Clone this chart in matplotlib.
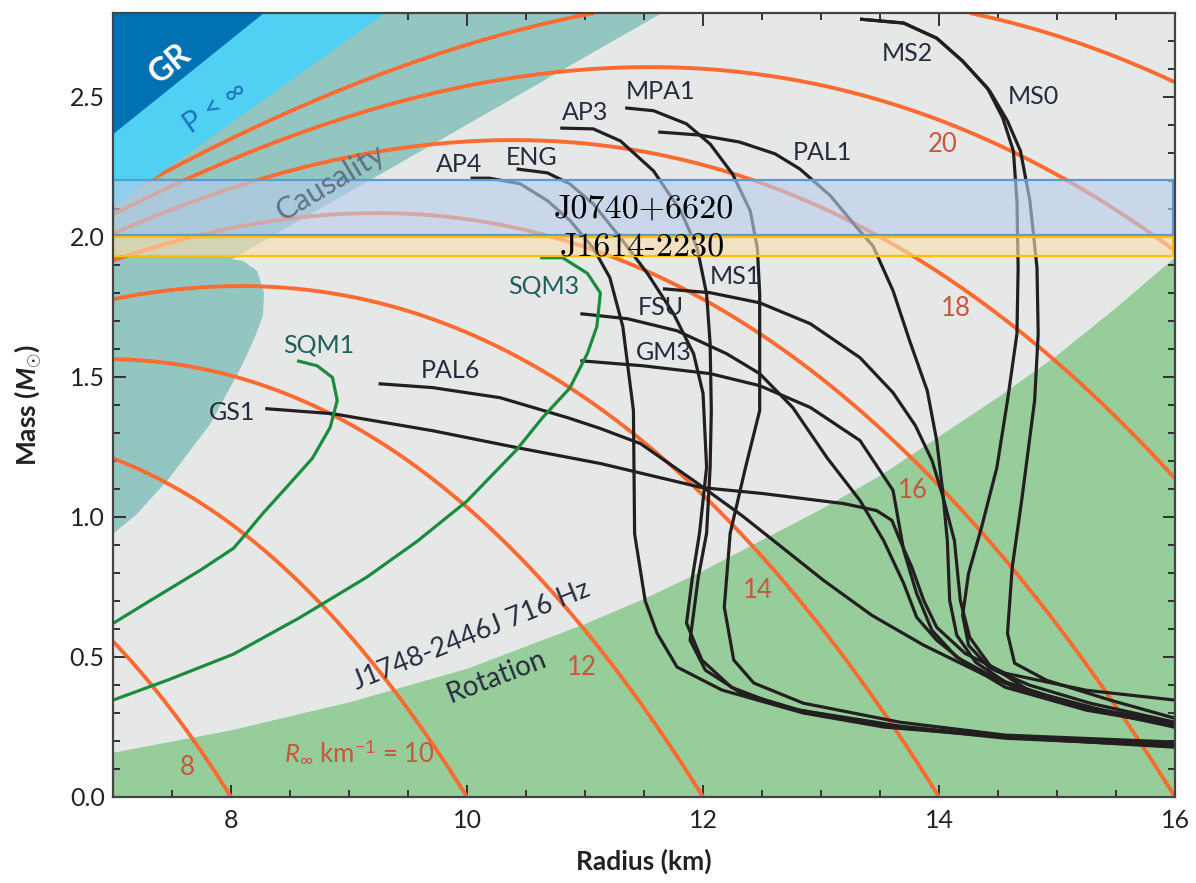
import numpy as np
import matplotlib
matplotlib.use("Agg")
import matplotlib.pyplot as plt
from matplotlib.patches import Polygon

# ---------------- data (radius in km, mass in solar masses) ----------------
rinf_levels = [8, 10, 12, 14, 16, 18, 20, 22]     # R_inf iso-lines
GM_C2 = 1.4766                                     # km per solar mass

gr_R, gr_M = [7.0, 8.27], [2.37, 2.80]             # GR limit
pinf_R, pinf_M = [7.0, 9.30], [2.11, 2.80]         # P < inf limit
caus_R, caus_M = [7.0, 11.64], [1.68, 2.80]        # causality limit
blob_R = [7.0, 7.9, 8.1, 8.22, 8.28, 8.27, 8.2, 8.08, 7.82, 7.46, 7.2, 7.0]
blob_M = [1.926, 1.926, 1.915, 1.88, 1.80, 1.72, 1.64, 1.53, 1.33, 1.13, 1.01, 0.94]
rot_R = [7.0, 7.5, 8.0, 8.5, 9.0, 9.5, 10.0, 10.5, 11.0, 11.5, 12.0, 12.5,
         13.0, 13.5, 14.0, 14.5, 15.0, 15.5, 16.0]
rot_M = [0.16, 0.20, 0.24, 0.29, 0.34, 0.40, 0.46, 0.54, 0.62, 0.71, 0.81, 0.92,
         1.03, 1.15, 1.29, 1.43, 1.58, 1.75, 1.93]

band_j0740 = [2.008, 2.204]
band_j1614 = [1.933, 2.001]

ap4_R = [10.03, 10.19, 10.45, 10.68, 10.87, 11.07, 11.21, 11.32, 11.41, 11.42, 11.51,
         11.61, 11.78, 12.16, 12.85, 13.53, 14.56, 16.0]
ap4_M = [2.21, 2.21, 2.19, 2.13, 2.06, 1.96, 1.855, 1.68, 1.38, 0.94, 0.70, 0.585,
         0.464, 0.382, 0.30, 0.25, 0.214, 0.178]
eng_R = [10.42, 10.68, 10.87, 11.07, 11.30, 11.53, 11.75, 11.92, 12.0, 12.03, 11.97,
         11.91, 11.86, 11.99, 12.24, 12.68, 13.5, 14.56, 16.0]
eng_M = [2.243, 2.229, 2.19, 2.118, 1.997, 1.869, 1.726, 1.583, 1.441, 1.177, 0.942,
         0.785, 0.621, 0.489, 0.392, 0.321, 0.257, 0.210, 0.182]
ap3_R = [10.79, 11.07, 11.30, 11.58, 11.81, 11.95, 12.03, 12.06, 12.07, 12.06, 12.03,
         11.96, 11.89, 12.02, 12.31, 12.82, 13.67, 14.56, 16.0]
ap3_M = [2.389, 2.386, 2.343, 2.236, 2.093, 1.961, 1.797, 1.619, 1.380, 1.177, 0.942,
         0.785, 0.560, 0.453, 0.374, 0.310, 0.253, 0.214, 0.189]
mpa1_R = [11.34, 11.58, 11.86, 12.06, 12.25, 12.40, 12.46, 12.48, 12.48, 12.36, 12.23,
          12.18, 12.26, 12.43, 12.85, 13.67, 14.56, 16.0]
mpa1_M = [2.461, 2.451, 2.404, 2.332, 2.225, 2.093, 1.961, 1.797, 1.380, 1.177, 0.942,
          0.678, 0.489, 0.407, 0.335, 0.267, 0.221, 0.196]
pal1_R = [11.62, 11.97, 12.31, 12.61, 12.82, 13.08, 13.29, 13.44, 13.61, 13.75, 13.90,
          13.98, 14.03, 14.07, 14.09, 14.15, 14.31, 14.63, 15.25, 16.0]
pal1_M = [2.375, 2.364, 2.339, 2.297, 2.243, 2.147, 2.040, 1.968, 1.808, 1.630, 1.451,
          1.273, 1.095, 0.916, 0.702, 0.578, 0.481, 0.392, 0.321, 0.253]
ms1_R = [11.66, 12.06, 12.48, 12.91, 13.33, 13.61, 13.80, 13.94, 14.03, 14.13, 14.18,
         14.26, 14.43, 14.76, 15.33, 16.0]
ms1_M = [1.815, 1.801, 1.765, 1.690, 1.569, 1.444, 1.326, 1.202, 1.077, 0.916, 0.702,
         0.570, 0.470, 0.381, 0.310, 0.249]
fsu_R = [10.96, 11.36, 11.78, 12.20, 12.48, 12.76, 13.05, 13.33, 13.53, 13.70, 13.81,
         13.98, 14.22, 14.56, 15.25, 16.0]
fsu_M = [1.726, 1.708, 1.665, 1.583, 1.512, 1.391, 1.212, 1.059, 0.916, 0.763, 0.642,
         0.560, 0.478, 0.392, 0.310, 0.256]
gm3_R = [10.96, 11.49, 12.06, 12.48, 12.91, 13.33, 13.61, 13.70, 13.81, 13.94, 14.15,
         14.56, 15.25, 16.0]
gm3_M = [1.558, 1.540, 1.512, 1.469, 1.391, 1.273, 1.095, 0.881, 0.727, 0.595, 0.499,
         0.406, 0.321, 0.264]
pal6_R = [9.25, 9.71, 10.28, 10.85, 11.13, 11.47, 11.92, 12.33, 12.68, 13.02, 13.43,
          13.87, 14.39, 14.91, 15.45, 16.0]
pal6_M = [1.476, 1.462, 1.426, 1.355, 1.316, 1.262, 1.130, 1.005, 0.888, 0.774, 0.649,
          0.542, 0.435, 0.363, 0.303, 0.260]
gs1_R = [8.29, 8.86, 9.71, 10.42, 11.13, 11.99, 12.50, 13.19, 13.47, 13.60, 13.67,
         13.77, 13.87, 13.98, 14.22, 14.56, 15.25, 16.0]
gs1_M = [1.387, 1.369, 1.308, 1.248, 1.191, 1.105, 1.084, 1.048, 1.023, 0.988, 0.916,
         0.820, 0.702, 0.606, 0.513, 0.442, 0.381, 0.346]
ms2_R = [13.33, 13.70, 13.98, 14.20, 14.41, 14.54, 14.63, 14.66, 14.67, 14.66, 14.58,
         14.49, 14.36, 14.25, 14.20, 14.25, 14.43, 14.77, 15.28, 16.0]
ms2_M = [2.778, 2.764, 2.710, 2.628, 2.532, 2.425, 2.307, 2.129, 1.890, 1.654, 1.416,
         1.177, 0.963, 0.799, 0.649, 0.542, 0.460, 0.399, 0.335, 0.267]
ms0_R = [13.33, 13.70, 13.98, 14.20, 14.43, 14.58, 14.69, 14.77, 14.83, 14.84, 14.81,
         14.70, 14.62, 14.58, 14.64, 14.91, 15.45, 16.0]
ms0_M = [2.778, 2.764, 2.710, 2.628, 2.521, 2.414, 2.307, 2.129, 1.890, 1.654, 1.416,
         1.059, 0.820, 0.585, 0.478, 0.417, 0.346, 0.281]
sqm1_R = [8.56, 8.73, 8.86, 8.90, 8.84, 8.69, 8.47, 8.27, 8.08, 8.02, 7.74, 7.31, 7.0]
sqm1_M = [1.558, 1.54, 1.498, 1.416, 1.32, 1.21, 1.106, 1.013, 0.917, 0.888, 0.81, 0.70, 0.62]
sqm3_R = [10.62, 10.81, 11.02, 11.13, 11.10, 11.02, 10.87, 10.64, 10.42, 10.0, 9.58,
          9.15, 8.58, 8.02, 7.46, 7.0]
sqm3_M = [1.926, 1.926, 1.87, 1.80, 1.68, 1.584, 1.46, 1.355, 1.24, 1.057, 0.914,
          0.785, 0.64, 0.51, 0.417, 0.346]

black_curves = [(ap4_R, ap4_M), (eng_R, eng_M), (ap3_R, ap3_M), (mpa1_R, mpa1_M),
                (pal1_R, pal1_M), (ms1_R, ms1_M), (fsu_R, fsu_M), (gm3_R, gm3_M),
                (pal6_R, pal6_M), (gs1_R, gs1_M), (ms2_R, ms2_M), (ms0_R, ms0_M)]
green_curves = [(sqm1_R, sqm1_M), (sqm3_R, sqm3_M)]

# ---------------- styling ----------------
plt.rcParams["font.family"] = ["Lato", "DejaVu Sans"]
plt.rcParams["mathtext.fontset"] = "custom"
plt.rcParams["mathtext.rm"] = "Lato"
plt.rcParams["mathtext.it"] = "Lato:italic"
plt.rcParams["mathtext.bf"] = "Lato:bold"
plt.rcParams["mathtext.bfit"] = "Lato:bold:italic"

C_BG = "#e6e7e7"
C_TEAL = "#93c6c1"
C_LBLUE = "#50d0f2"
C_DBLUE = "#0071b3"
C_GREEN = "#96cd9b"
C_ORANGE = "#fd6b31"
C_BLACK = "#231f20"
C_SQM = "#1a8c3e"
C_TXT = "#272b3d"
C_NUM = "#c8573b"

fig = plt.figure(figsize=(11.96, 8.83), dpi=100)
ax = fig.add_axes([0.0945, 0.0974, 0.888, 0.8879])
ax.set_xlim(7, 16)
ax.set_ylim(0, 2.8)
ax.set_facecolor(C_BG)
top = ax.get_ylim()[1]

# regions
ax.fill_between(rot_R, 0, rot_M, color=C_GREEN, lw=0, zorder=1)
ax.fill_between(caus_R, caus_M, top, color=C_TEAL, lw=0, zorder=1)
ax.add_patch(Polygon(np.column_stack([blob_R, blob_M]), closed=True,
                     facecolor=C_TEAL, edgecolor="none", zorder=1))

# constant R_inf lines
RR, MM = np.meshgrid(np.linspace(7, 16, 700), np.linspace(0, 2.8, 700))
term = 1 - 2 * GM_C2 * MM / RR
rinf = np.where(term > 0, RR / np.sqrt(np.clip(term, 1e-9, None)), np.nan)
ax.contour(RR, MM, rinf, levels=rinf_levels, colors=C_ORANGE, linewidths=2.8, zorder=2)

ax.fill_between(pinf_R, pinf_M, top, color=C_LBLUE, lw=0, zorder=3)
ax.fill_between(gr_R, gr_M, top, color=C_DBLUE, lw=0, zorder=3.5)

# EoS curves
for r, m in black_curves:
    ax.plot(r, m, color=C_BLACK, lw=2.3, zorder=5, solid_joinstyle="round",
            solid_capstyle="butt")
for r, m in green_curves:
    ax.plot(r, m, color=C_SQM, lw=2.3, zorder=5, solid_joinstyle="round",
            solid_capstyle="butt")

# pulsar mass bands
ax.axhspan(band_j0740[0], band_j0740[1], xmin=0.0, xmax=0.998,
           facecolor=(0.725, 0.808, 0.925, 0.62), edgecolor="#5b9bd5", lw=1.6, zorder=6)
ax.axhspan(band_j1614[0], band_j1614[1], xmin=0.0, xmax=0.998,
           facecolor=(0.99, 0.87, 0.68, 0.62), edgecolor="#ffc000", lw=1.6, zorder=6)
ax.text(11.5, 2.10, "J0740+6620", family="cmr10", fontsize=24.5, color="black",
        ha="center", va="center", zorder=8)
ax.text(11.49, 1.963, "J1614-2230", family="cmr10", fontsize=24.5, color="black",
        ha="center", va="center", zorder=8)

# region labels
ax.text(7.48, 2.62, "GR", color="white", fontsize=23, fontweight="bold",
        rotation=39, ha="center", va="center", rotation_mode="anchor", zorder=7)
ax.text(7.87, 2.465, "P < ∞", color="#1b75bc", fontsize=21,
        rotation=35, ha="center", va="center", rotation_mode="anchor", zorder=7)
ax.text(8.84, 2.195, "Causality", color="#5f7384", fontsize=22,
        rotation=31, ha="center", va="center", rotation_mode="anchor", zorder=7)
ax.text(10.04, 0.575, "J1748-2446J 716 Hz", color=C_TXT, fontsize=19.5,
        rotation=22, ha="center", va="center", rotation_mode="anchor", zorder=7)
ax.text(10.25, 0.428, "Rotation", color=C_TXT, fontsize=20,
        rotation=21, ha="center", va="center", rotation_mode="anchor", zorder=7)

# EoS labels
lab = dict(color=C_TXT, fontsize=18, ha="center", va="center", zorder=7)
ax.text(9.93, 2.26, "AP4", **lab)
ax.text(10.55, 2.283, "ENG", **lab)
ax.text(11.0, 2.443, "AP3", **lab)
ax.text(11.64, 2.521, "MPA1", **lab)
ax.text(13.01, 2.303, "PAL1", **lab)
ax.text(13.73, 2.654, "MS2", **lab)
ax.text(14.80, 2.500, "MS0", **lab)
ax.text(12.27, 1.858, "MS1", **lab)
ax.text(11.64, 1.747, "FSU", **lab)
ax.text(11.67, 1.587, "GM3", **lab)
ax.text(9.86, 1.523, "PAL6", **lab)
ax.text(8.01, 1.373, "GS1", **lab)
lab_g = dict(lab, color="#1f5f5a")
ax.text(8.74, 1.616, "SQM1", **lab_g)
ax.text(10.65, 1.826, "SQM3", **lab_g)

# R_inf numbers
num = dict(color=C_NUM, fontsize=18.5, ha="center", va="center", zorder=7)
ax.text(7.63, 0.107, "8", **num)
ax.text(9.09, 0.162, r"$\mathit{R}_{\infty}$ km$^{-1}$ = 10", **num)
ax.text(10.97, 0.464, "12", **num)
ax.text(12.46, 0.738, "14", **num)
ax.text(13.78, 1.095, "16", **num)
ax.text(14.14, 1.744, "18", **num)
ax.text(14.03, 2.332, "20", **num)

# axes / ticks
ax.set_xticks([8, 10, 12, 14, 16])
ax.set_xticks(np.arange(7, 16.01, 0.5), minor=True)
ax.set_yticks([0.0, 0.5, 1.0, 1.5, 2.0, 2.5])
ax.set_yticks(np.arange(0, 2.801, 0.1), minor=True)
ax.set_yticklabels(["0.0", "0.5", "1.0", "1.5", "2.0", "2.5"])
ax.tick_params(which="both", direction="in", top=True, right=True,
               color="#333333", width=1.4, labelsize=18, labelcolor="#222222")
ax.tick_params(which="major", length=9)
ax.tick_params(which="minor", length=5)
ax.tick_params(axis="x", pad=9)
ax.tick_params(axis="y", pad=6)
for s in ax.spines.values():
    s.set_color("#444444")
    s.set_linewidth(1.6)
    s.set_zorder(9)

fig.text(0.5385, 0.024, "Radius (km)", fontsize=19, fontweight="bold",
         color="#222222", ha="center", va="center")
fig.text(0.024, 0.541, r"Mass ($\mathbfit{M}_{\odot}$)", fontsize=19, fontweight="bold",
         color="#222222", ha="center", va="center", rotation=90)

fig.savefig("out.png", dpi=100)
